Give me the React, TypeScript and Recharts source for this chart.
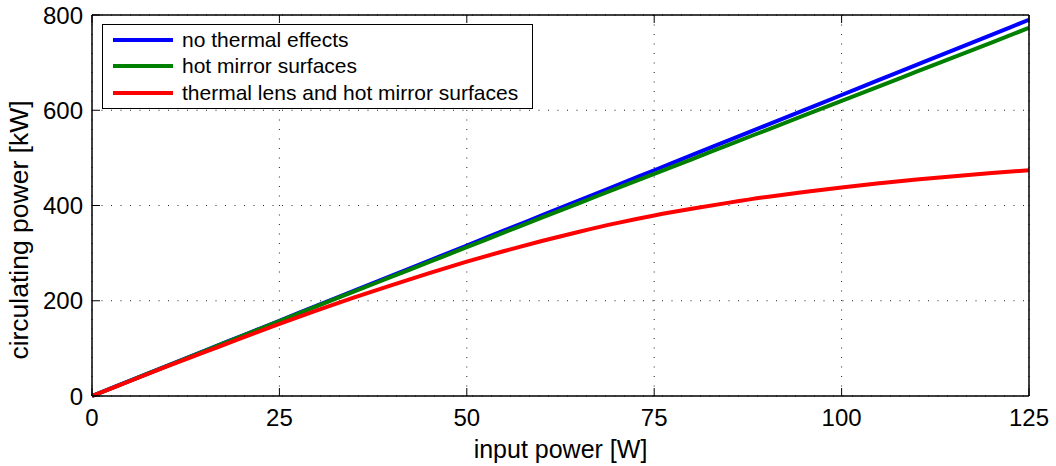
import React from 'react';
import { LineChart, Line, XAxis, YAxis, CartesianGrid } from 'recharts';

// input power [W]
const inputPower = [0, 5, 10, 15, 20, 25, 30, 35, 40, 45, 50, 55, 60, 65, 70, 75, 80, 85, 90, 95, 100, 105, 110, 115, 120, 125];
// circulating power [kW]
const noThermal = [0, 31.6, 63.2, 94.8, 126.4, 158, 189.6, 221.2, 252.8, 284.4, 316, 347.6, 379.2, 410.8, 442.4, 474, 505.6, 537.2, 568.8, 600.4, 632, 663.6, 695.2, 726.8, 758.4, 790];
const hotMirror = [0, 31.5, 63, 94.5, 126, 157, 188.5, 219.5, 250.5, 281.5, 312.5, 343.5, 374.5, 405, 436, 466.5, 497, 528, 558.5, 589, 619.5, 650, 681, 711.5, 742, 773];
const thermalLens = [0, 31, 62, 92, 122, 151.5, 180, 207, 233, 258, 282, 304.5, 325.5, 345, 363, 379, 393, 406, 418, 428.5, 438, 446.5, 454.5, 461.5, 468, 474];

const xTicks = [0, 25, 50, 75, 100, 125];
const yTicks = [0, 200, 400, 600, 800];

const series = [
  { key: 'noThermal', name: 'no thermal effects', color: '#0000ff' },
  { key: 'hotMirror', name: 'hot mirror surfaces', color: '#008000' },
  { key: 'thermalLens', name: 'thermal lens and hot mirror surfaces', color: '#ff0000' },
];

const data = inputPower.map((p, i) => ({
  p,
  noThermal: noThermal[i],
  hotMirror: hotMirror[i],
  thermalLens: thermalLens[i],
}));

const font = '"Liberation Sans", Arial, sans-serif';
const tickStyle = { fill: '#000', fontSize: 24, fontFamily: font };

function LegendBox() {
  return (
    <div
      style={{
        position: 'absolute',
        left: 102,
        top: 24,
        width: 429,
        height: 83,
        border: '1px solid #000',
        background: '#fff',
        fontFamily: font,
        fontSize: 21,
        color: '#000',
      }}
    >
      {series.map((s, i) => (
        <div key={s.key} style={{ position: 'absolute', left: 0, top: 1.5 + i * 26.5, height: 26, display: 'flex', alignItems: 'center' }}>
          <div style={{ marginLeft: 10, width: 60, height: 4, background: s.color }} />
          <span style={{ marginLeft: 9, whiteSpace: 'nowrap' }}>{s.name}</span>
        </div>
      ))}
    </div>
  );
}

const YLabel = () => (
  <text x={28} y={230} transform="rotate(-90 28 230)" textAnchor="middle" fill="#000" fontSize={26.5} fontFamily={font}>
    circulating power [kW]
  </text>
);

export default function App() {
  return (
    <div style={{ position: 'absolute', left: 0, top: 0, width: 1056, height: 466, background: '#fff' }}>
      <LineChart width={1056} height={466} data={data} margin={{ top: 14, right: 26, bottom: 69, left: 91 }}>
        <CartesianGrid
          xAxisId="b"
          yAxisId="l"
          stroke="#222"
          strokeDasharray="1 8.5"
          strokeWidth={1}
          horizontalValues={yTicks}
          verticalValues={xTicks}
        />
        <XAxis
          xAxisId="b"
          dataKey="p"
          type="number"
          domain={[0, 125]}
          ticks={xTicks}
          height={1}
          axisLine={{ stroke: '#000', strokeWidth: 1.5 }}
          tickLine={{ stroke: '#000' }}
          tickSize={-8}
          tickMargin={21}
          tick={tickStyle}
          label={{ value: 'input power [W]', position: 'bottom', offset: 43, style: { fill: '#000', fontSize: 25, fontFamily: font } }}
        />
        <XAxis
          xAxisId="t"
          orientation="top"
          dataKey="p"
          type="number"
          domain={[0, 125]}
          ticks={xTicks}
          height={1}
          axisLine={{ stroke: '#000', strokeWidth: 1.5 }}
          tickLine={{ stroke: '#000' }}
          tickSize={-8}
          tickFormatter={() => ''}
        />
        <YAxis
          yAxisId="l"
          type="number"
          domain={[0, 800]}
          ticks={yTicks}
          width={1}
          axisLine={{ stroke: '#000', strokeWidth: 1.5 }}
          tickLine={{ stroke: '#000' }}
          tickSize={-8}
          tickMargin={17}
          tick={tickStyle}
          label={{ content: () => <YLabel /> }}
        />
        <YAxis
          yAxisId="r"
          orientation="right"
          type="number"
          domain={[0, 800]}
          ticks={yTicks}
          width={1}
          axisLine={{ stroke: '#000', strokeWidth: 1.5 }}
          tickLine={{ stroke: '#000' }}
          tickSize={-8}
          tickFormatter={() => ''}
        />
        {series.map((s) => (
          <Line
            key={s.key}
            xAxisId="b"
            yAxisId="l"
            type="monotone"
            dataKey={s.key}
            name={s.name}
            stroke={s.color}
            strokeWidth={4}
            dot={false}
            isAnimationActive={false}
          />
        ))}
      </LineChart>
      <LegendBox />
    </div>
  );
}
